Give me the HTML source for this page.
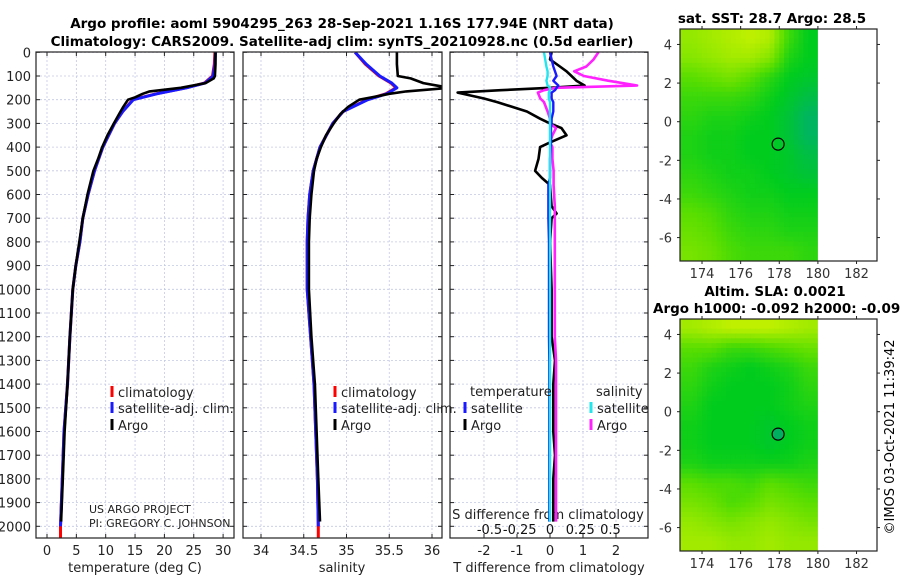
<!DOCTYPE html>
<html><head><meta charset="utf-8">
<style>
html,body{margin:0;padding:0;background:#fff;}
svg{display:block;font-family:"DejaVu Sans","Liberation Sans",sans-serif;}
</style></head>
<body>
<svg id="fig" width="900" height="580" viewBox="0 0 900 580" xmlns="http://www.w3.org/2000/svg">
<text x="342" y="28" text-anchor="middle" font-size="13.5" font-weight="bold">Argo profile: aoml 5904295_263 28-Sep-2021 1.16S 177.94E (NRT data)</text>
<text x="342" y="46" text-anchor="middle" font-size="13.5" font-weight="bold">Climatology: CARS2009. Satellite-adj clim: synTS_20210928.nc (0.5d earlier)</text>
<text x="772" y="23" text-anchor="middle" font-size="13.5" font-weight="bold">sat. SST: 28.7 Argo: 28.5</text>
<text x="775" y="296" text-anchor="middle" font-size="13.5" font-weight="bold">Altim. SLA: 0.0021</text>
<text x="653" y="313" font-size="13.5" font-weight="bold">Argo h1000: -0.092 h2000: -0.094</text>
<text transform="translate(894,437) rotate(-90)" text-anchor="middle" font-size="13">©IMOS 03-Oct-2021 11:39:42</text>
<g id="g"></g>
</svg>
<script>
// ---- data ----
const depthTicks = [0,100,200,300,400,500,600,700,800,900,1000,1100,1200,1300,1400,1500,1600,1700,1800,1900,2000];
const tTicks = [0,5,10,15,20,25,30];
const sTicks = [34,34.5,35,35.5,36];
const sTickLabels = ['34','34.5','35','35.5','36'];
const dTTicks = [-2,-1,0,1,2];
const dSTicks = [-0.5,-0.25,0,0.25,0.5];
const dSTickLabels = ['-0.5','-0.25','0','0.25','0.5'];

const climDepth = [0,50,100,130,150,175,200,250,300,400,500,600,700,800,900,1000,1200,1400,1600,1800,2000,2050];
const climTemp  = [28.6,28.5,28.2,26.8,23.7,18.6,14.6,12.9,11.5,9.5,8.1,7.0,6.1,5.6,4.9,4.4,3.9,3.5,2.9,2.6,2.3,2.3];
const satTemp   = [28.7,28.6,28.3,26.9,23.8,18.7,14.7,12.9,11.5,9.5,8.1,7.0,6.1,5.6,4.9,4.4,3.9,3.5,2.9,2.6,2.3];
const argoDepth = [0,50,100,110,130,150,165,175,190,200,230,260,300,350,400,450,500,600,700,800,900,1000,1200,1400,1600,1800,1980];
const argoTemp  = [28.7,28.7,28.6,28.4,27.0,22.8,17.5,16.3,15.0,13.8,13.0,12.3,11.4,10.3,9.4,8.7,7.9,6.9,6.1,5.5,4.9,4.4,3.9,3.5,3.0,2.7,2.4];

const climSal = [35.1,35.22,35.38,35.52,35.58,35.46,35.24,34.96,34.84,34.69,34.61,34.57,34.55,34.54,34.54,34.54,34.58,34.62,34.64,34.66,34.67,34.67];
const satSal  = [35.1,35.23,35.39,35.53,35.59,35.47,35.25,34.96,34.84,34.69,34.61,34.57,34.55,34.54,34.54,34.54,34.58,34.62,34.64,34.66,34.67];
const argoSal = [35.59,35.59,35.6,35.75,35.9,36.2,35.7,35.5,35.3,35.15,35.02,34.93,34.85,34.76,34.7,34.65,34.62,34.59,34.57,34.56,34.56,34.56,34.59,34.63,34.65,34.67,34.69];

const diffDepth = [0,30,60,80,100,120,140,150,160,170,195,210,250,280,300,320,350,380,400,450,500,530,560,650,680,700,800,1000,1200,1300,1400,1600,1700,1800,1980];
const dTArgo = [0.05,0.0,0.3,0.5,0.65,0.8,1.05,0.0,-1.5,-2.8,-2.0,-1.6,-0.7,-0.3,0.0,0.35,0.5,0.0,-0.3,-0.35,-0.45,-0.25,0.0,0.05,0.2,0.05,0.0,0.05,0.05,0.15,0.1,0.1,0.15,0.1,0.1];
const dTSat  = [0.0,0.05,0.1,0.15,0.2,0.1,0.25,0.2,0.15,0.05,0.05,0.1,0.1,0.05,0.05,0.03,0.03,0.03,0.02,0.0,0.0,0.0,-0.05,-0.05,-0.05,-0.05,-0.03,-0.03,-0.03,-0.02,-0.02,-0.02,-0.02,-0.02,-0.02];
const dSArgo = [0.4,0.36,0.3,0.2,0.28,0.48,0.72,0.05,-0.05,-0.1,-0.08,-0.05,-0.02,0.0,0.0,0.05,0.02,0.0,0.02,0.02,0.03,0.03,0.03,0.04,0.04,0.04,0.04,0.04,0.04,0.05,0.05,0.05,0.05,0.05,0.05];
const dSSat  = [-0.05,-0.04,-0.03,-0.02,-0.02,-0.03,-0.02,0.0,0.0,-0.01,-0.01,0.0,0.0,0.0,0.0,0.0,0.0,0.0,0.0,0.0,0.0,0.0,0.0,0.0,0.0,0.0,0.0,0.0,0.0,0.0,0.0,0.0,0.0,0.0,0.0];

const lonTicks = [174,176,178,180,182];
const latTicks = [4,2,0,-2,-4,-6];
const gridLon0 = 173, gridLat0 = 4.8; // grid origin (data)
const sstGrid = [
[0.8,0.85,0.9,0.95,0.9,0.5,0.3],
[0.75,0.8,0.85,0.85,0.75,0.4,0.3],
[0.6,0.65,0.7,0.6,0.45,0.3,0.25],
[0.5,0.5,0.5,0.45,0.35,0.25,0.15],
[0.45,0.4,0.4,0.35,0.3,0.2,0.05],
[0.4,0.35,0.35,0.3,0.3,0.2,0.05],
[0.4,0.35,0.35,0.3,0.3,0.25,0.15],
[0.45,0.4,0.35,0.35,0.3,0.25,0.2],
[0.5,0.45,0.4,0.35,0.35,0.3,0.3],
[0.6,0.55,0.45,0.4,0.4,0.35,0.35],
[0.65,0.6,0.5,0.45,0.45,0.4,0.4],
[0.7,0.65,0.55,0.5,0.5,0.5,0.45]];
const slaGrid = [
[0.85,0.9,0.95,0.95,0.95,0.9,0.85],
[0.6,0.6,0.5,0.5,0.55,0.6,0.65],
[0.5,0.4,0.35,0.3,0.35,0.4,0.5],
[0.45,0.35,0.3,0.3,0.3,0.35,0.45],
[0.4,0.3,0.3,0.3,0.3,0.35,0.4],
[0.35,0.3,0.3,0.3,0.25,0.3,0.35],
[0.35,0.3,0.3,0.3,0.25,0.3,0.35],
[0.4,0.35,0.35,0.35,0.35,0.35,0.4],
[0.6,0.55,0.55,0.5,0.6,0.55,0.5],
[0.7,0.65,0.55,0.6,0.7,0.65,0.6],
[0.8,0.75,0.7,0.75,0.8,0.75,0.7],
[0.85,0.85,0.8,0.8,0.85,0.8,0.8]];
const floatLon = 177.94, floatLat = -1.16;

// ---- scales ----
const NS='http://www.w3.org/2000/svg';
const G=document.getElementById('g');
function mk(tag,attrs,parent){const e=document.createElementNS(NS,tag);for(const k in attrs)e.setAttribute(k,attrs[k]);(parent||G).appendChild(e);return e;}
const TOP=52, BOT=538;
const yD = d => 52.3 + d*0.2370;
const xT = t => 47 + t*5.87;
const xS = s => 261 + (s-34)*85.5;
const xDT = v => 550 + v*33;
const xDS = v => 550 + v*121;
const panels=[{x0:36,x1:234,name:'temperature-panel'},{x0:243,x1:442,name:'salinity-panel'},{x0:450,x1:648,name:'difference-panel'}];

function gridV(xs,p){xs.forEach(x=>{const l=mk('line',{x1:x,x2:x,y1:TOP,y2:BOT,stroke:'#c4c8e4','stroke-width':0.8,'stroke-dasharray':'2,2'});

});}
panels.forEach((p,i)=>{
  depthTicks.forEach(d=>{const l=mk('line',{x1:p.x0,x2:p.x1,y1:yD(d),y2:yD(d),stroke:'#c4c8e4','stroke-width':0.8,'stroke-dasharray':'2,2'});
  
  
  mk('line',{x1:p.x0,x2:p.x0+4,y1:yD(d),y2:yD(d),stroke:'#222'});mk('line',{x1:p.x1-4,x2:p.x1,y1:yD(d),y2:yD(d),stroke:'#222'});});
});
gridV(tTicks.map(xT));gridV(sTicks.map(xS));gridV(dTTicks.map(xDT));
depthTicks.forEach(d=>{const t=mk('text',{x:31,y:yD(d)+5,'text-anchor':'end','font-size':13,fill:'#222'});t.textContent=d;

});
function xlabels(ticks,labels,f,y){ticks.forEach((v,i)=>{const t=mk('text',{x:f(v),y:y,'text-anchor':'middle','font-size':13,fill:'#222'});t.textContent=labels[i];


mk('line',{x1:f(v),x2:f(v),y1:BOT,y2:BOT-4,stroke:'#222'});mk('line',{x1:f(v),x2:f(v),y1:TOP,y2:TOP+4,stroke:'#222'});});}
xlabels(tTicks,tTicks.map(String),xT,555);
xlabels(sTicks,sTickLabels,xS,555);
xlabels(dTTicks,dTTicks.map(String),xDT,555);
dSTicks.forEach((v,i)=>{const t=mk('text',{x:xDS(v),y:534,'text-anchor':'middle','font-size':13,fill:'#111'});t.textContent=dSTickLabels[i];

});
function label(x,y,txt,name,anchor){const t=mk('text',{x:x,y:y,'text-anchor':anchor||'middle','font-size':13,fill:'#222'});t.textContent=txt;return t;}
label(135,572,'temperature (deg C)','x-axis-title-temperature');
label(342,572,'salinity','x-axis-title-salinity');
label(549,572,'T difference from climatology','x-axis-title-t-diff');
label(548,519,'S difference from climatology','axis-title-s-diff');
const c1=label(89,513,'US ARGO PROJECT','credit-project','start');c1.setAttribute('font-size',11);
const c2=label(89,527,'PI: GREGORY C. JOHNSON','credit-pi','start');c2.setAttribute('font-size',11);

const defs=mk('defs',{});
panels.forEach((p,i)=>{const cp=mk('clipPath',{id:'cp'+i},defs);mk('rect',{x:p.x0,y:TOP,width:p.x1-p.x0,height:BOT-TOP},cp);});
function line(xs,ds,fx,color,w,clip,name){const pts=xs.map((v,i)=>fx(v).toFixed(1)+','+yD(ds[i]).toFixed(1)).join(' ');
const l=mk('polyline',{points:pts,fill:'none',stroke:color,'stroke-width':w,'stroke-linejoin':'round','clip-path':'url(#cp'+clip+')'});

}
line(climTemp,climDepth,xT,'#ff0000',3,0,'temp-climatology-line');
line(satTemp,climDepth,xT,'#1a1aff',3,0,'temp-satellite-line');
line(argoTemp,argoDepth,xT,'#000',2.6,0,'temp-argo-line');
line(climSal,climDepth,xS,'#ff0000',3,1,'sal-climatology-line');
line(satSal,climDepth,xS,'#1a1aff',3,1,'sal-satellite-line');
line(argoSal,argoDepth,xS,'#000',2.6,1,'sal-argo-line');
line(dTArgo,diffDepth,xDT,'#000',2.6,2,'t-diff-argo-line');
line(dSArgo,diffDepth,xDS,'#ff22ff',2.6,2,'s-diff-argo-line');
line(dTSat,diffDepth,xDT,'#1a1aff',2.4,2,'t-diff-satellite-line');
line(dSSat,diffDepth,xDS,'#22e5ee',2.4,2,'s-diff-satellite-line');
panels.forEach(p=>{const r=mk('rect',{x:p.x0,y:TOP,width:p.x1-p.x0,height:BOT-TOP,fill:'none',stroke:'#222','stroke-width':1.2});

});

function leg(x,y,color,txt,name){mk('rect',{x:x-1.5,y:y-11,width:3,height:11,fill:color});const t=mk('text',{x:x+6,y:y,'font-size':13,fill:'#222'});t.textContent=txt;

}
leg(112,397,'#ff0000','climatology','legend-climatology');
leg(112,413,'#1a1aff','satellite-adj. clim.','legend-satellite');
leg(112,430,'#000','Argo','legend-argo');
leg(335,397,'#ff0000','climatology','legend-climatology-2');
leg(335,413,'#1a1aff','satellite-adj. clim.','legend-satellite-2');
leg(335,430,'#000','Argo','legend-argo-2');
label(470,396,'temperature','legend-heading-temperature','start');
label(596,396,'salinity','legend-heading-salinity','start');
leg(465,413,'#1a1aff','satellite','legend-t-satellite');
leg(465,430,'#000','Argo','legend-t-argo');
leg(591,413,'#22e5ee','satellite','legend-s-satellite');
leg(591,430,'#ff22ff','Argo','legend-s-argo');

// maps
function cmap(v){const st=[[0,[0,176,110]],[0.3,[0,204,30]],[0.6,[90,222,0]],[1,[205,242,0]]];
for(let i=1;i<st.length;i++){if(v<=st[i][0]){const a=st[i-1],b=st[i],f=(v-a[0])/(b[0]-a[0]);return 'rgb('+a[1].map((c,j)=>Math.round(c+(b[1][j]-c)*f)).join(',')+')';}}return 'rgb(205,242,0)';}
function sample(grid,rr,cc){
  const R=grid.length,C=grid[0].length;
  let r=rr-0.5,c=cc-0.5;
  r=Math.max(0,Math.min(R-1,r));c=Math.max(0,Math.min(C-1,c));
  const r0=Math.floor(r),c0=Math.floor(c),r1=Math.min(R-1,r0+1),c1=Math.min(C-1,c0+1);
  const fr=r-r0,fc=c-c0;
  return grid[r0][c0]*(1-fr)*(1-fc)+grid[r0][c1]*(1-fr)*fc+grid[r1][c0]*fr*(1-fc)+grid[r1][c1]*fr*fc;
}
function map(y0,y1,grid,name,circleFill){
  const X0=680,X1=877,lonL=172.86,lonR=183.06;
  const scl=(X1-X0)/(lonR-lonL);
  const fx=l=>X0+(l-lonL)*scl;
  const lat0y = y0 + 4.8*scl;
  const fy=la=>lat0y-la*scl;
  const cp=mk('clipPath',{id:'cp'+name},defs);mk('rect',{x:X0,y:y0,width:X1-X0,height:y1-y0},cp);
  const g=mk('g',{'clip-path':'url(#cp'+name+')'});
  const SUB=4, R=grid.length, C=grid[0].length;
  for(let i=0;i<R*SUB;i++){for(let j=-1;j<C*SUB;j++){
    const rr=(i+0.5)/SUB, cc=(j+0.5)/SUB;
    const v=sample(grid,rr,cc);
    const lo=gridLon0+j/SUB, la=gridLat0-i/SUB;
    const cell=mk('rect',{x:fx(lo).toFixed(2),y:fy(la).toFixed(2),width:(scl/SUB+0.6).toFixed(2),height:(i==R*SUB-1?30:scl/SUB+0.6).toFixed(2),fill:cmap(v)},g);
    
    
  }}
  const wipe=mk('rect',{x:fx(180),y:y0,width:X1-fx(180),height:y1-y0,fill:'#fff'},g);
  const fl=mk('circle',{cx:fx(floatLon),cy:fy(floatLat),r:6,fill:circleFill,stroke:'#000','stroke-width':1.2});
  
  
  const fr=mk('rect',{x:X0,y:y0,width:X1-X0,height:y1-y0,fill:'none',stroke:'#222','stroke-width':1.2});
  
  
  lonTicks.forEach(l=>{const t=mk('text',{x:fx(l),y:y1+17,'text-anchor':'middle','font-size':13,fill:'#333'});t.textContent=l;
    
    
    mk('line',{x1:fx(l),x2:fx(l),y1:y0,y2:y0-3,stroke:'#222'});mk('line',{x1:fx(l),x2:fx(l),y1:y1,y2:y1+3,stroke:'#222'});});
  latTicks.forEach(la=>{const t=mk('text',{x:672,y:fy(la)+5,'text-anchor':'end','font-size':13,fill:'#333'});t.textContent=la;
    
    
    mk('line',{x1:X0,x2:X0-3,y1:fy(la),y2:fy(la),stroke:'#222'});mk('line',{x1:X1,x2:X1+3,y1:fy(la),y2:fy(la),stroke:'#222'});});
}
map(29,261,sstGrid,'sst-map','none');
map(319,551,slaGrid,'sla-map','#00b060');
</script>
</body></html>
